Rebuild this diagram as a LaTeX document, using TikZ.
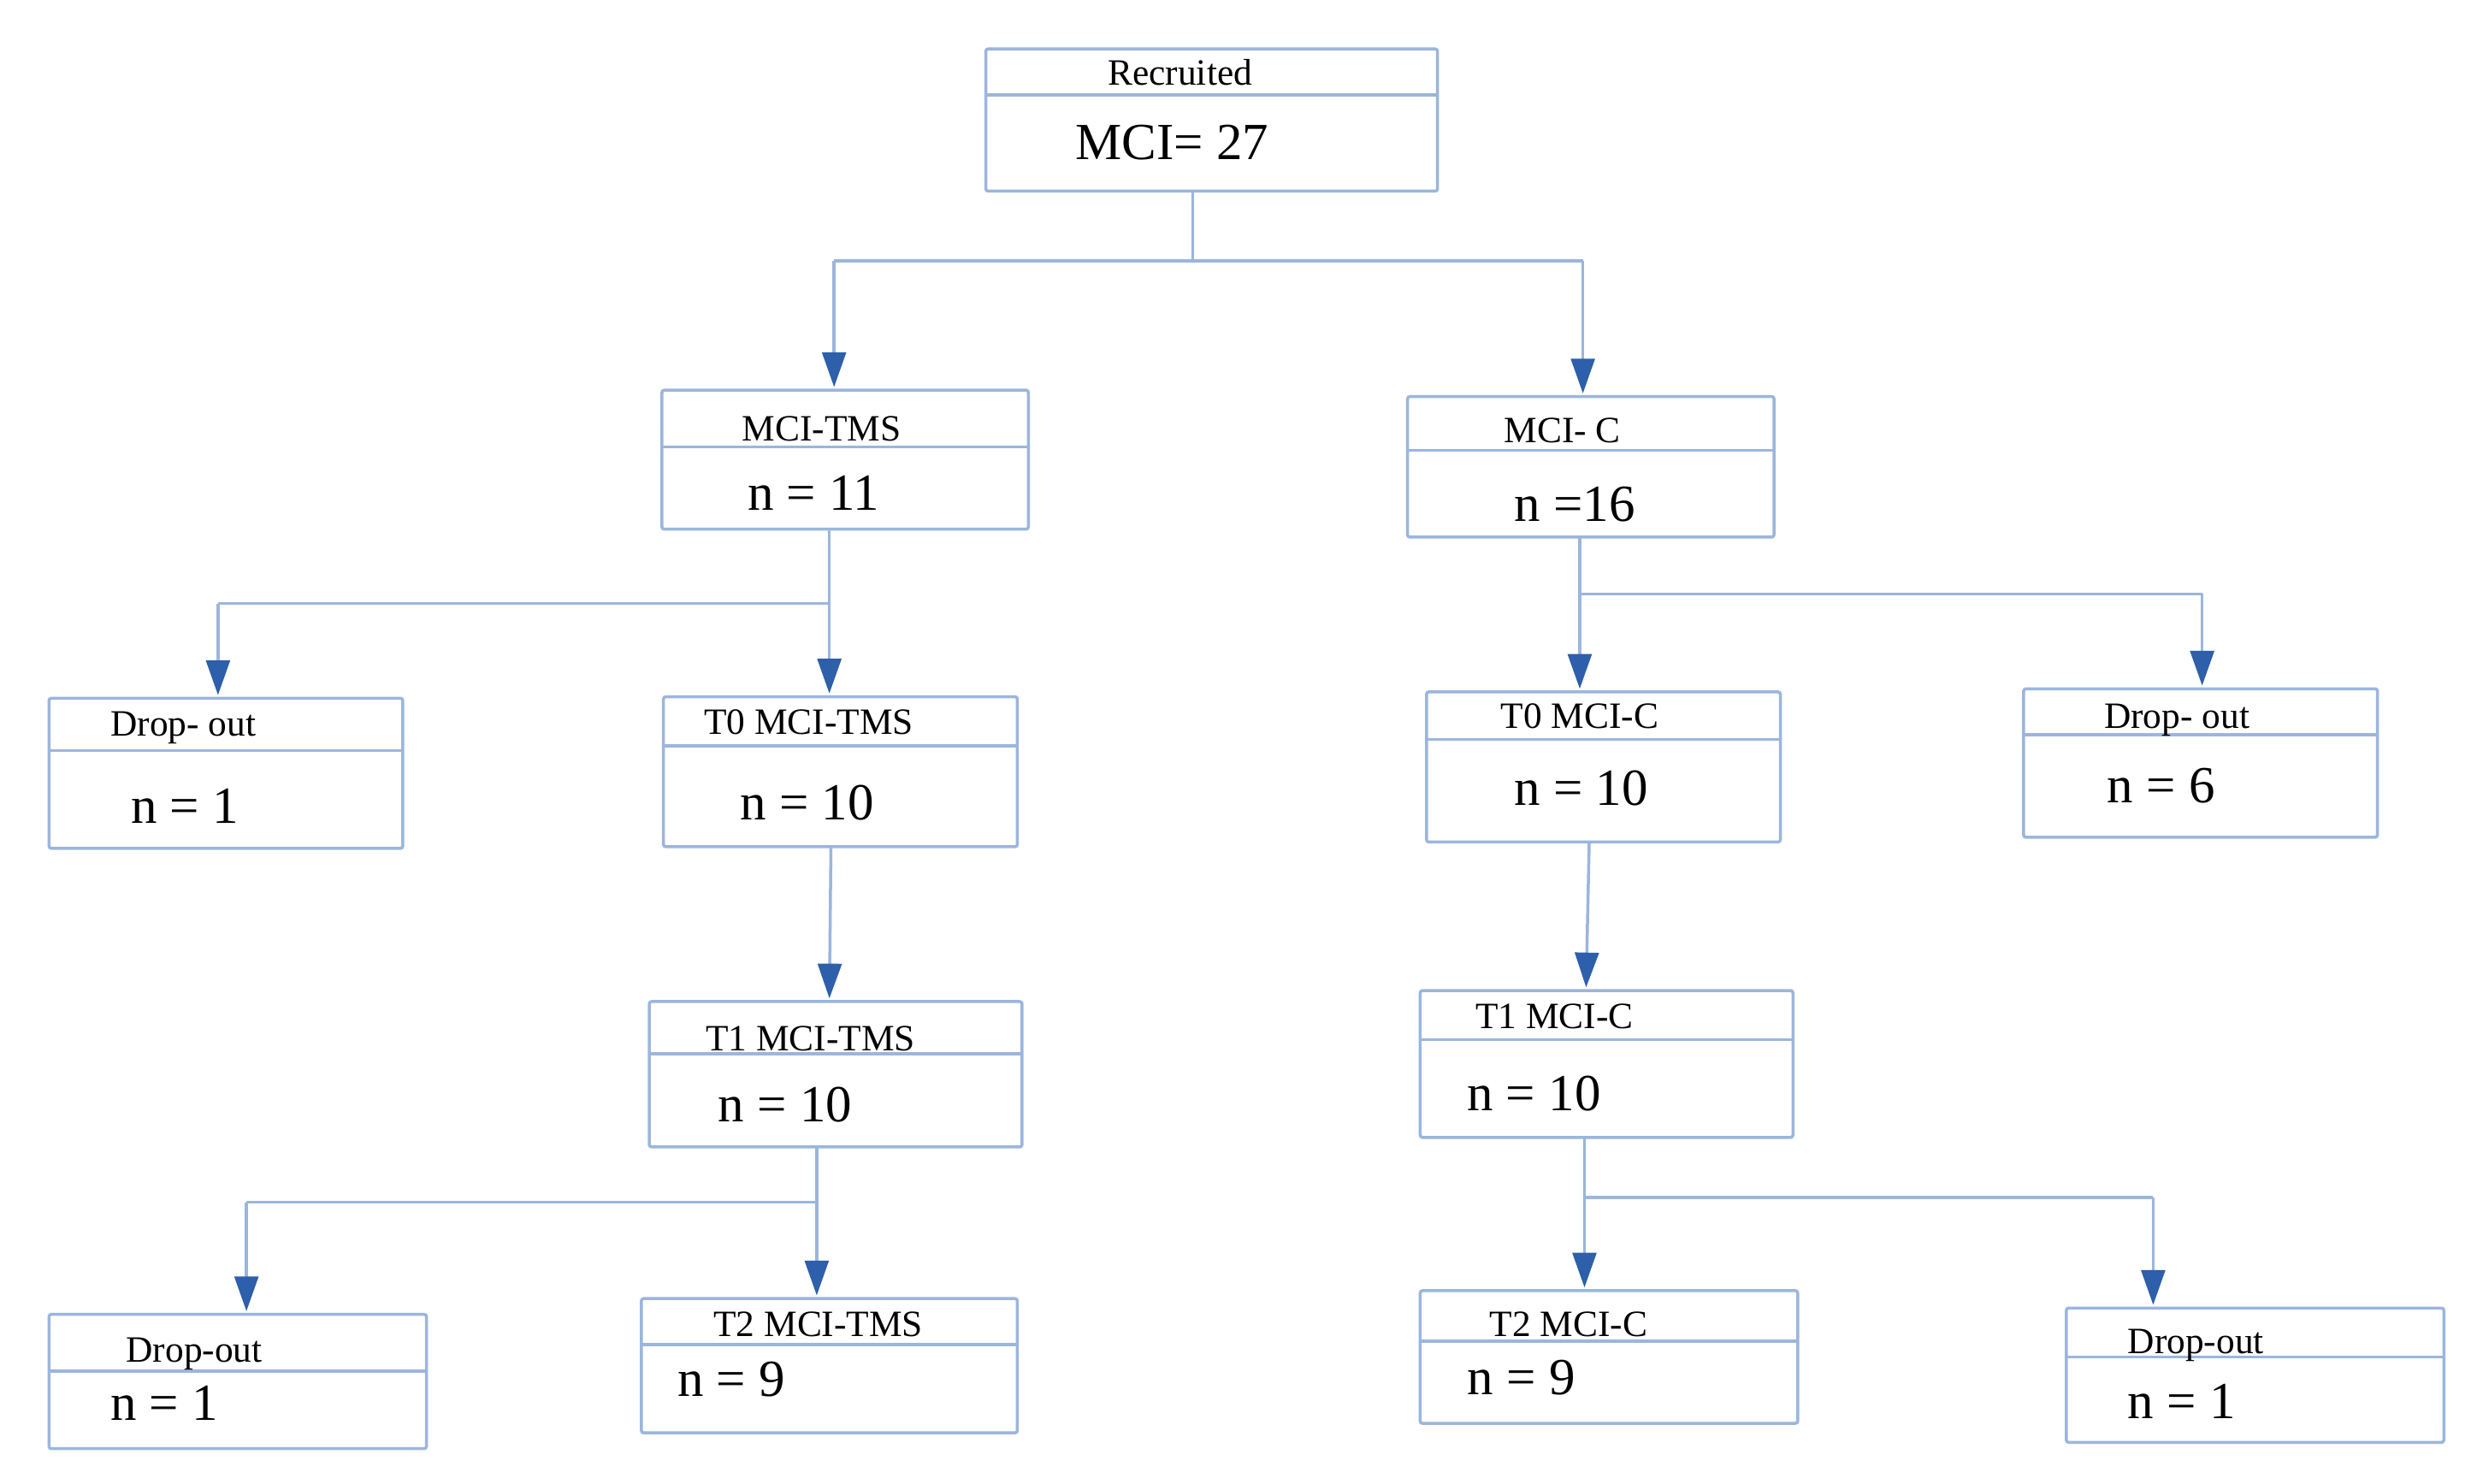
\documentclass[tikz,border=0pt]{standalone}
\usepackage{fontspec}
\setmainfont{Liberation Serif}
\usetikzlibrary{arrows.meta}
\definecolor{boxblue}{RGB}{155,182,220}
\definecolor{tipblue}{RGB}{45,95,170}
\newcommand{\mkbox}[6]{%
  \node[boxnode, minimum width={#4-#2}, minimum height={#5-#3}] (#1) at ({(#2+#4)/2},{(#3+#5)/2}) {};
  \draw[divline] (#2,#6) -- (#4,#6);
}
\begin{document}
\begin{tikzpicture}[x=1pt,y=-1pt,
  boxnode/.style={draw=boxblue, line width=1.9pt, rounded corners=1.5pt, inner sep=0pt, outer sep=0pt, fill=white},
  divline/.style={draw=boxblue, line width=1.9pt},
  conn/.style={draw=boxblue, line width=1.9pt},
  arr/.style={conn, shorten >=2pt, -{Triangle[width=15pt,length=22pt,color=tipblue]}},
  ttl/.style={anchor=base, inner sep=0pt, font=\fontsize{23.5}{28}\selectfont},
  bdy/.style={anchor=base, inner sep=0pt, font=\fontsize{33}{40}\selectfont}
]
\useasboundingbox (0,0) rectangle (1568,939);
\fill[white] (0,0) rectangle (1568,939);

% boxes
\mkbox{rec}{624}{31}{910}{121}{60}
\mkbox{mtms}{419}{247}{651}{335}{283}
\mkbox{mc}{891}{251}{1123}{340}{285}
\mkbox{dl1}{31}{442}{255}{537}{475}
\mkbox{t0t}{420}{441}{644}{536}{472}
\mkbox{t0c}{903}{438}{1127}{533}{468}
\mkbox{dr1}{1281}{436}{1505}{530}{465}
\mkbox{t1t}{411}{634}{647}{726}{667}
\mkbox{t1c}{899}{627}{1135}{720}{658}
\mkbox{dl2}{31}{832}{270}{917}{868}
\mkbox{t2t}{406}{822}{644}{907}{851}
\mkbox{t2c}{899}{817}{1138}{901}{849}
\mkbox{dr2}{1308}{828}{1547}{913}{859}

% texts
\node[ttl] (rec-t) at (747,54) {Recruited};
\node[bdy] (rec-b) at (742,101) {MCI= 27};
\node[ttl] (mtms-t) at (520,279) {MCI-TMS};
\node[bdy] (mtms-b) at (515,323) {n = 11};
\node[ttl] (mc-t) at (989,280) {MCI- C};
\node[bdy] (mc-b) at (997,330) {n =16};
\node[ttl] (dl1-t) at (116,466) {Drop- out};
\node[bdy] (dl1-b) at (117,521) {n = 1};
\node[ttl] (t0t-t) at (512,465) {T0 MCI-TMS};
\node[bdy] (t0t-b) at (511,519) {n = 10};
\node[ttl] (t0c-t) at (1000,461) {T0 MCI-C};
\node[bdy] (t0c-b) at (1001,510) {n = 10};
\node[ttl] (dr1-t) at (1378,461) {Drop- out};
\node[bdy] (dr1-b) at (1368,508) {n = 6};
\node[ttl] (t1t-t) at (513,665) {T1 MCI-TMS};
\node[bdy] (t1t-b) at (497,710) {n = 10};
\node[ttl] (t1c-t) at (984,651) {T1 MCI-C};
\node[bdy] (t1c-b) at (971,703) {n = 10};
\node[ttl] (dl2-t) at (123,862) {Drop-out};
\node[bdy] (dl2-b) at (104,899) {n = 1};
\node[ttl] (t2t-t) at (518,846) {T2 MCI-TMS};
\node[bdy] (t2t-b) at (463,884) {n = 9};
\node[ttl] (t2c-t) at (993,846) {T2 MCI-C};
\node[bdy] (t2c-b) at (963,883) {n = 9};
\node[ttl] (dr2-t) at (1390,857) {Drop-out};
\node[bdy] (dr2-b) at (1381,898) {n = 1};

% connectors level 1
\coordinate (j1) at (755,165);
\coordinate (j1a) at (528,165);
\coordinate (j1b) at (1002,165);
\draw[conn] (rec.south -| j1) -- (j1);
\draw[conn] (j1a) -- (j1b);
\draw[arr] (j1a) -- (mtms.north -| j1a);
\draw[arr] (j1b) -- (mc.north -| j1b);

% level 2 left
\coordinate (j2) at (525,382);
\coordinate (j2a) at (138,382);
\draw[conn] (mtms.south -| j2) -- (j2);
\draw[conn] (j2a) -- (j2);
\draw[arr] (j2a) -- (dl1.north -| j2a);
\draw[arr] (j2) -- (t0t.north -| j2);

% level 2 right
\coordinate (j3) at (1000,376);
\coordinate (j3b) at (1394,376);
\draw[conn] (mc.south -| j3) -- (j3);
\draw[conn] (j3) -- (j3b);
\draw[arr] (j3) -- (t0c.north -| j3);
\draw[arr] (j3b) -- (dr1.north -| j3b);

% T0 -> T1
\coordinate (k1) at (526,0);
\coordinate (k2) at (525,0);
\draw[arr] (t0t.south -| k1) -- (t1t.north -| k2);
\coordinate (k3) at (1006,0);
\coordinate (k4) at (1004,0);
\draw[arr] (t0c.south -| k3) -- (t1c.north -| k4);

% level 4 left
\coordinate (j4) at (517,761);
\coordinate (j4a) at (156,761);
\draw[conn] (t1t.south -| j4) -- (j4);
\draw[conn] (j4a) -- (j4);
\draw[arr] (j4a) -- (dl2.north -| j4a);
\draw[arr] (j4) -- (t2t.north -| j4);

% level 4 right
\coordinate (j5) at (1003,758);
\coordinate (j5b) at (1363,758);
\draw[conn] (t1c.south -| j5) -- (j5);
\draw[conn] (j5) -- (j5b);
\draw[arr] (j5) -- (t2c.north -| j5);
\draw[arr] (j5b) -- (dr2.north -| j5b);
\end{tikzpicture}
\end{document}
